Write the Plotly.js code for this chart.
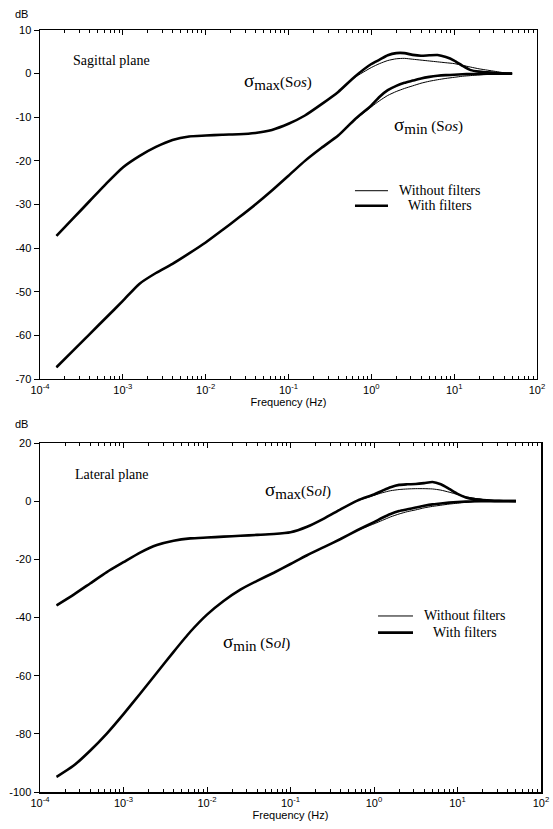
<!DOCTYPE html>
<html><head><meta charset="utf-8">
<script src="https://cdn.plot.ly/plotly-3.0.1.min.js"></script>
<style>body{margin:0;background:#fff}#chart{width:553px;height:829px}</style>
</head><body><div id="chart"></div>
<script>
// Frequency grid (Hz)
const freq = [1.58e-4, 2.51e-4, 3.98e-4, 6.31e-4, 1.0e-3, 1.58e-3, 2.51e-3, 3.98e-3, 6.31e-3,
  0.01, 0.0158, 0.0251, 0.0398, 0.0631, 0.1, 0.158, 0.251, 0.398, 0.631,
  1.0, 1.26, 1.58, 2.0, 2.51, 3.16, 3.98, 5.01, 6.31, 7.94,
  10, 12.6, 15.8, 20.0, 25.1, 31.6, 39.8, 50.1];

// Sagittal plane (dB)
const sagMaxWith = [-37.2, -33.2, -29.2, -25.2, -21.5, -18.9, -16.8, -15.2, -14.4,
  -14.2, -14.0, -13.9, -13.6, -12.9, -11.5, -9.6, -7.0, -4.2, -0.7,
  2.2, 3.2, 4.2, 4.7, 4.7, 4.3, 4.1, 4.2, 4.25, 3.8,
  3.0, 1.8, 0.8, 0.45, 0.3, 0.15, 0.05, 0];
const sagMaxWithout = [-37.2, -33.2, -29.2, -25.2, -21.5, -18.9, -16.8, -15.2, -14.4,
  -14.2, -14.0, -13.9, -13.6, -12.9, -11.5, -9.6, -7.0, -4.3, -0.9,
  1.4, 2.3, 3.0, 3.4, 3.5, 3.3, 3.1, 2.9, 2.7, 2.5,
  2.3, 1.9, 1.5, 1.1, 0.8, 0.5, 0.2, 0];
const sagMinWith = [-67.3, -63.5, -59.7, -55.9, -52.1, -48.2, -45.7, -43.6, -41.2,
  -38.7, -35.9, -33.0, -30.0, -26.8, -23.4, -20.0, -17.0, -14.2, -10.5,
  -7.3, -5.3, -3.8, -2.8, -2.1, -1.6, -1.1, -0.75, -0.5, -0.35,
  -0.25, -0.15, -0.1, -0.05, 0, 0, 0, 0];
const sagMinWithout = [-67.3, -63.5, -59.7, -55.9, -52.1, -48.2, -45.7, -43.6, -41.2,
  -38.7, -35.9, -33.0, -30.0, -26.8, -23.4, -20.0, -17.0, -14.2, -10.7,
  -7.6, -6.2, -5.0, -4.1, -3.4, -2.8, -2.2, -1.75, -1.4, -1.1,
  -0.85, -0.6, -0.45, -0.3, -0.2, -0.1, 0, 0];

// Lateral plane (dB)
const latMaxWith = [-35.8, -32.2, -28.3, -24.4, -21.0, -17.7, -15.1, -13.6, -12.8,
  -12.5, -12.2, -11.9, -11.6, -11.3, -10.7, -8.8, -6.0, -2.8, 0.2,
  2.3, 3.6, 4.8, 5.6, 5.8, 5.9, 6.2, 6.6, 5.8, 4.2,
  2.5, 1.3, 0.7, 0.4, 0.2, 0.1, 0.05, 0];
const latMaxWithout = [-35.8, -32.2, -28.3, -24.4, -21.0, -17.7, -15.1, -13.6, -12.8,
  -12.5, -12.2, -11.9, -11.6, -11.3, -10.7, -8.8, -6.0, -2.8, 0.1,
  2.0, 2.9, 3.6, 4.0, 4.2, 4.3, 4.3, 4.2, 3.8, 3.1,
  2.3, 1.5, 1.0, 0.6, 0.3, 0.1, 0, 0];
const latMinWith = [-94.8, -91.0, -85.8, -79.9, -73.2, -66.2, -59.0, -51.8, -44.9,
  -39.0, -34.3, -30.4, -27.4, -24.6, -21.6, -18.6, -15.8, -13.0, -10.0,
  -7.2, -5.7, -4.4, -3.4, -2.8, -2.2, -1.6, -1.1, -0.8, -0.5,
  -0.3, -0.15, -0.05, 0, 0, 0, 0, 0];
const latMinWithout = [-94.8, -91.0, -85.8, -79.9, -73.2, -66.2, -59.0, -51.8, -44.9,
  -39.0, -34.3, -30.4, -27.4, -24.6, -21.6, -18.6, -15.8, -13.0, -10.1,
  -7.8, -6.6, -5.4, -4.4, -3.6, -3.0, -2.3, -1.8, -1.4, -1.0,
  -0.7, -0.4, -0.2, -0.1, 0, 0, 0, 0];

// Tick labels
const xTickVals = [1e-4, 1e-3, 1e-2, 1e-1, 1, 10, 100];
const xTickText = ['10<sup>-4</sup>', '10<sup>-3</sup>', '10<sup>-2</sup>', '10<sup>-1</sup>', '10<sup>0</sup>', '10<sup>1</sup>', '10<sup>2</sup>'];
const yTopVals = [10, 0, -10, -20, -30, -40, -50, -60, -70];
const yTopText = ['10', '0', '-10', '-20', '-30', '-40', '-50', '-60', '-70'];
const yBotVals = [20, 0, -20, -40, -60, -80, -100];
const yBotText = ['20', '0', '-20', '-40', '-60', '-80', '-100'];
const legendNames = ['Without filters', 'With filters'];

// minor tick positions for the log axes (2..9 per decade)
const minorVals = [];
for (let e = -4; e < 2; e++) for (let m = 2; m <= 9; m++) minorVals.push(m * Math.pow(10, e));

const THIN = 1, THICK = 2.6;
function tr(y, w, xa, ya, name) {
  return {x: freq, y: y, mode: 'lines', type: 'scatter',
    line: {color: '#000', width: w, shape: 'spline', smoothing: 0.6},
    xaxis: xa, yaxis: ya, name: name, showlegend: false, hoverinfo: 'skip'};
}
const data = [
  tr(sagMaxWithout, THIN, 'x', 'y', legendNames[0]),
  tr(sagMinWithout, THIN, 'x', 'y', legendNames[0]),
  tr(sagMaxWith, THICK, 'x', 'y', legendNames[1]),
  tr(sagMinWith, THICK, 'x', 'y', legendNames[1]),
  tr(latMaxWithout, THIN, 'x2', 'y2', legendNames[0]),
  tr(latMinWithout, THIN, 'x2', 'y2', legendNames[0]),
  tr(latMaxWith, THICK, 'x2', 'y2', legendNames[1]),
  tr(latMinWith, THICK, 'x2', 'y2', legendNames[1])
];

const sans = {family: 'Liberation Sans, Arial, sans-serif', size: 11, color: '#000'};
const serif = {family: 'Liberation Serif, Times New Roman, serif', size: 14, color: '#000'};

function xax(domain, anchor) {
  return {type: 'log', range: [-4, 2], domain: domain, anchor: anchor,
    tickmode: 'array', tickvals: xTickVals, ticktext: xTickText,
    ticks: 'inside', ticklen: 5, tickwidth: 1, tickcolor: '#000',
    showline: true, linecolor: '#000', linewidth: 1.5, mirror: 'ticks',
    showgrid: false, zeroline: false, tickfont: sans,
    minor: {tickmode: 'array', tickvals: minorVals, ticks: 'inside', ticklen: 3, tickwidth: 1, tickcolor: '#000', showgrid: false},
    title: {text: 'Frequency (Hz)', font: sans, standoff: 2}};
}
function yax(range, vals, text, domain, anchor) {
  return {range: range, domain: domain, anchor: anchor,
    tickmode: 'array', tickvals: vals, ticktext: text,
    ticks: 'outside', ticklen: 5, tickwidth: 1, tickcolor: '#000',
    showline: true, linecolor: '#000', linewidth: 1.5, mirror: true,
    showgrid: false, zeroline: false, tickfont: sans};
}
function yright(range, vals, over, anchor) {
  return {range: range, overlaying: over, side: 'right', anchor: anchor,
    tickmode: 'array', tickvals: vals, showticklabels: false,
    ticks: 'inside', ticklen: 5, tickwidth: 1, tickcolor: '#000',
    showline: false, showgrid: false, zeroline: false};
}

function lab(txt, xa, ya, x, y, size) {
  return {text: txt, xref: xa, yref: ya, x: x, y: y, xanchor: 'left', yanchor: 'middle',
    showarrow: false, font: Object.assign({}, serif, {size: size})};
}
function legText(txt, x, y) {
  return {text: txt, xref: 'paper', yref: 'paper', x: x, y: y, xanchor: 'center', yanchor: 'middle',
    showarrow: false, font: serif};
}
function legLine(x0, x1, y, w) {
  return {type: 'line', xref: 'paper', yref: 'paper', x0: x0, x1: x1, y0: y, y1: y,
    line: {color: '#000', width: w}};
}
const sig = '<span style="font-size:19px">σ</span>';
const layout = {
  width: 553, height: 829,
  margin: {l: 40, r: 12, t: 30, b: 37},
  paper_bgcolor: '#fff', plot_bgcolor: '#fff',
  showlegend: false,
  xaxis: xax([0, 0.992], 'y'),
  yaxis: yax([-70, 10], yTopVals, yTopText, [0.542, 1], 'x'),
  yaxis3: yright([-70, 10], yTopVals, 'y', 'x'),
  xaxis2: xax([0, 1], 'y2'),
  yaxis2: yax([-100, 20], yBotVals, yBotText, [0, 0.458], 'x2'),
  yaxis4: yright([-100, 20], yBotVals, 'y2', 'x2'),
  shapes: [
    legLine(0.6287, 0.6946, 0.7891, THIN),
    legLine(0.6287, 0.6946, 0.7694, THICK),
    legLine(0.6747, 0.7445, 0.2310, THIN),
    legLine(0.6747, 0.7445, 0.2091, THICK)
  ],
  annotations: [
    {text: 'dB', xref: 'paper', yref: 'paper', x: -0.036, y: 1.021, xanchor: 'center', yanchor: 'middle', showarrow: false, font: sans},
    {text: 'dB', xref: 'paper', yref: 'paper', x: -0.036, y: 0.483, xanchor: 'center', yanchor: 'middle', showarrow: false, font: sans},
    lab('Sagittal plane', 'x', 'y', -3.63, 2.9, 14),
    lab(sig + '<sub><span style="font-size:15px">max</span></sub>(S<i>os</i>)', 'x', 'y', -1.56, -1.7, 15),
    lab(sig + '<sub><span style="font-size:15px">min</span></sub> (S<i>os</i>)', 'x', 'y', 0.25, -12.0, 15),
    lab('Lateral plane', 'x2', 'y2', -3.606, 9.3, 14),
    lab(sig + '<sub><span style="font-size:15px">max</span></sub>(S<i>ol</i>)', 'x2', 'y2', -1.334, 3.8, 15),
    lab(sig + '<sub><span style="font-size:15px">min</span></sub> (S<i>ol</i>)', 'x2', 'y2', -1.83, -48.5, 15),
    legText(legendNames[0], 0.7984, 0.7891),
    legText(legendNames[1], 0.7984, 0.7694),
    legText(legendNames[0], 0.8483, 0.2310),
    legText(legendNames[1], 0.8483, 0.2091)
  ]
};

Plotly.newPlot('chart', data, layout, {displayModeBar: false, staticPlot: true});
</script></body></html>
